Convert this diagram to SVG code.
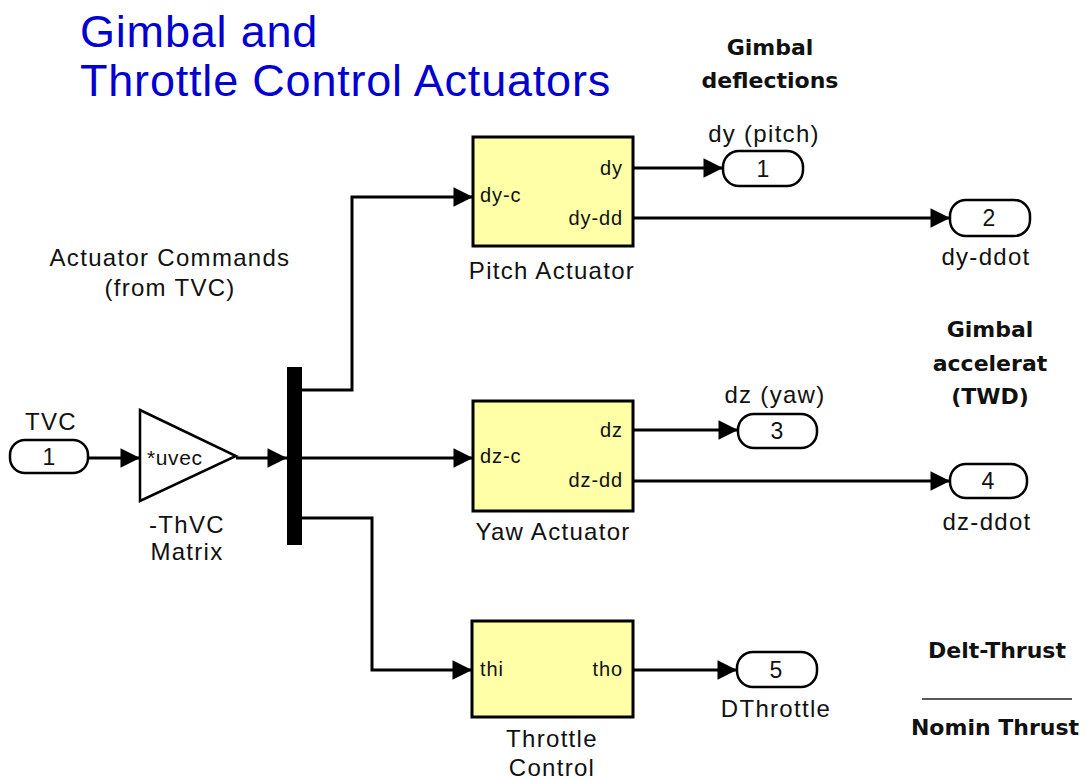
<svg xmlns="http://www.w3.org/2000/svg" width="1089" height="779" viewBox="0 0 1089 779">
<defs>
<style>
.t{font-family:"Liberation Sans",Arial,sans-serif;fill:#111;}
.lbl{font-size:24px;letter-spacing:1.3px;text-anchor:middle;}
.port{font-size:20px;letter-spacing:0.9px;}
.num{font-size:23px;text-anchor:middle;}
.b{font-family:"DejaVu Sans","Liberation Sans",sans-serif;font-weight:bold;font-size:22px;text-anchor:middle;fill:#111;}
.blk{fill:#ffffa8;stroke:#000;stroke-width:3;}
.io{fill:#fff;stroke:#000;stroke-width:2.5;}
.w{fill:none;stroke:#000;stroke-width:3;marker-end:url(#ah);}
</style>
<marker id="ah" viewBox="0 0 10 10" refX="10" refY="5" markerWidth="7" markerHeight="6.5" markerUnits="strokeWidth" orient="auto">
<path d="M0,0 L10,5 L0,10 z" fill="#000"/>
</marker>
</defs>
<rect width="1089" height="779" fill="#fff"/>
<g id="title">
<text x="80" y="47" font-family="Liberation Sans,Arial,sans-serif" font-size="45" letter-spacing="0.8" fill="#0000d0">Gimbal and</text>
<text x="80" y="96" font-family="Liberation Sans,Arial,sans-serif" font-size="45" letter-spacing="0.8" fill="#0000d0">Throttle Control Actuators</text>
</g>
<g id="note-deflections">
<text class="b" x="770" y="55">Gimbal</text>
<text class="b" x="770" y="88">deflections</text>
</g>
<g id="note-accel">
<text class="b" x="990" y="337">Gimbal</text>
<text class="b" x="990" y="371">accelerat</text>
<text class="b" x="990" y="404">(TWD)</text>
</g>
<g id="note-thrust">
<text class="b" x="997" y="658">Delt-Thrust</text>
<line x1="922" y1="699" x2="1072" y2="699" stroke="#222" stroke-width="1.5"/>
<text class="b" x="995" y="735">Nomin Thrust</text>
</g>
<g id="note-commands">
<text class="t lbl" x="170" y="266">Actuator Commands</text>
<text class="t lbl" x="170" y="296">(from TVC)</text>
</g>
<g id="connectors">
<path class="w" d="M88,458 H140"/>
<path class="w" d="M236,458 H287"/>
<path class="w" d="M302,390 H352 V197 H473"/>
<path class="w" d="M302,458 H473"/>
<path class="w" d="M302,518 H372 V670 H472"/>
<path class="w" d="M633,168 H723"/>
<path class="w" d="M633,218 H950"/>
<path class="w" d="M633,430 H738"/>
<path class="w" d="M633,481 H950"/>
<path class="w" d="M633,670 H737"/>
</g>
<g id="in1">
<rect class="io" x="10" y="440" width="78" height="33" rx="15"/>
<text class="t num" x="49" y="465">1</text>
<text class="t lbl" x="51" y="430">TVC</text>
</g>
<g id="gain">
<path d="M140,410 L236,456 L140,501 z" fill="#fff" stroke="#000" stroke-width="2.5"/>
<text class="t" x="147" y="465" font-size="21" letter-spacing="0.6">*uvec</text>
<text class="t lbl" x="187" y="533">-ThVC</text>
<text class="t lbl" x="187" y="560">Matrix</text>
</g>
<g id="mux">
<rect x="287" y="367" width="15" height="178" fill="#000"/>
</g>
<g id="pitch">
<rect class="blk" x="473" y="137" width="160" height="109"/>
<text class="t port" x="480" y="202">dy-c</text>
<text class="t port" x="623" y="175" text-anchor="end">dy</text>
<text class="t port" x="623" y="225" text-anchor="end">dy-dd</text>
<text class="t lbl" x="552" y="279">Pitch Actuator</text>
</g>
<g id="yaw">
<rect class="blk" x="473" y="401" width="160" height="110"/>
<text class="t port" x="480" y="463">dz-c</text>
<text class="t port" x="623" y="437" text-anchor="end">dz</text>
<text class="t port" x="623" y="487" text-anchor="end">dz-dd</text>
<text class="t lbl" x="553" y="540">Yaw Actuator</text>
</g>
<g id="throttle">
<rect class="blk" x="472" y="621" width="161" height="96"/>
<text class="t port" x="480" y="676">thi</text>
<text class="t port" x="623" y="676" text-anchor="end">tho</text>
<text class="t lbl" x="552" y="747">Throttle</text>
<text class="t lbl" x="552" y="776">Control</text>
</g>
<g id="out1">
<rect class="io" x="723" y="151" width="80" height="35" rx="16"/>
<text class="t num" x="763" y="177">1</text>
<text class="t lbl" x="764" y="142">dy (pitch)</text>
</g>
<g id="out2">
<rect class="io" x="950" y="200" width="80" height="36" rx="16"/>
<text class="t num" x="989" y="226">2</text>
<text class="t lbl" x="986" y="265">dy-ddot</text>
</g>
<g id="out3">
<rect class="io" x="738" y="414" width="79" height="34" rx="16"/>
<text class="t num" x="777" y="439">3</text>
<text class="t lbl" x="775" y="403">dz (yaw)</text>
</g>
<g id="out4">
<rect class="io" x="950" y="464" width="77" height="34" rx="16"/>
<text class="t num" x="988" y="489">4</text>
<text class="t lbl" x="987" y="530">dz-ddot</text>
</g>
<g id="out5">
<rect class="io" x="737" y="652" width="80" height="35" rx="16"/>
<text class="t num" x="776" y="678">5</text>
<text class="t lbl" x="776" y="717">DThrottle</text>
</g>
</svg>
